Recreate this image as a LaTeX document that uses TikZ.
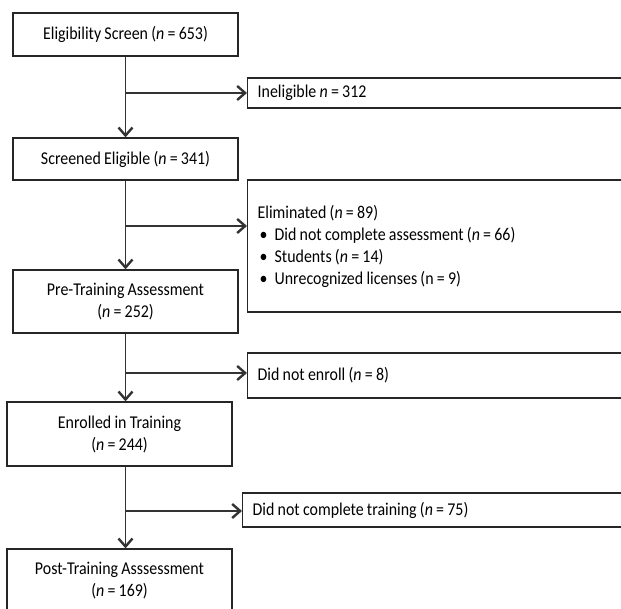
\documentclass[tikz,border=0pt]{standalone}
\usepackage{fontspec}
\setmainfont{Carlito}[FakeStretch=0.885,WordSpace=0.9]
\usetikzlibrary{arrows.meta,calc,positioning}

\tikzset{
 mainbox/.style={draw=black!85,line width=1.3pt,minimum width=225pt,align=center,inner sep=0pt},
 sidebox/.style={draw=black!85,line width=1.3pt,anchor=west,minimum width=393pt,text width=373pt,
   align=flush left,inner xsep=10pt,inner ysep=0pt},
 flow/.style={line width=1.1pt,draw=black!80,-{Straight Barb[length=8pt,width=14pt,line width=2.4pt]}},
}

\begin{document}
\begin{tikzpicture}[x=1pt,y=-1pt,font=\fontsize{18}{22}\selectfont]
 \useasboundingbox (0,0) rectangle (621,609);
 \clip (0,0) rectangle (621,609);

 % main column
 \node[mainbox,minimum height=43pt] (screen) at (125.5,34.5) {Eligibility Screen (\textit{n} = 653)};
 \node[mainbox,minimum height=42pt] (eligible) at (125.5,159) {Screened Eligible (\textit{n} = 341)};
 \node[mainbox,minimum height=63pt] (pretest) at (125.5,301.5) {Pre-Training Assessment\\(\textit{n} = 252)};
 \node[mainbox,minimum height=64pt] (enrolled) at (119.5,434) {Enrolled in Training\\(\textit{n} = 244)};
 \node[mainbox,minimum height=64pt] (posttest) at (119.5,581) {Post-Training Asssessment\\(\textit{n} = 169)};

 % exclusions
 \node[sidebox,minimum height=30pt] (inelig) at (247,93) {Ineligible \textit{n} = 312};
 \node[sidebox,minimum height=132pt] (elim) at (247,246) {Eliminated (\textit{n} = 89)\\
   \hspace*{2pt}\makebox[15pt][l]{\textbullet}Did not complete assessment (\textit{n} = 66)\\
   \hspace*{2pt}\makebox[15pt][l]{\textbullet}Students (\textit{n} = 14)\\
   \hspace*{2pt}\makebox[15pt][l]{\textbullet}Unrecognized licenses (n = 9)};
 \node[sidebox,minimum height=45pt] (noenroll) at (247,375.5) {Did not enroll (\textit{n} = 8)};
 \node[sidebox,minimum height=34pt,minimum width=398pt,text width=378pt] (nocomplete) at (242,510)
   {Did not complete training (\textit{n} = 75)};

 % branch points
 \coordinate (j1) at (126,93);
 \coordinate (j2) at (126,226);
 \coordinate (j3) at (126,373);
 \coordinate (j4) at (125.5,511);

 \draw[flow] (screen) -- (eligible);
 \draw[flow] (eligible) -- (pretest);
 \draw[flow] (pretest.south) -- (pretest.south |- enrolled.north);
 \draw[flow] ([xshift=6pt]enrolled.south) -- ([xshift=6pt]posttest.north);

 \draw[flow] (j1) -- (j1 -| inelig.west);
 \draw[flow] (j2) -- (j2 -| elim.west);
 \draw[flow] (j3) -- (j3 -| noenroll.west);
 \draw[flow] (j4) -- (j4 -| nocomplete.west);
\end{tikzpicture}
\end{document}
